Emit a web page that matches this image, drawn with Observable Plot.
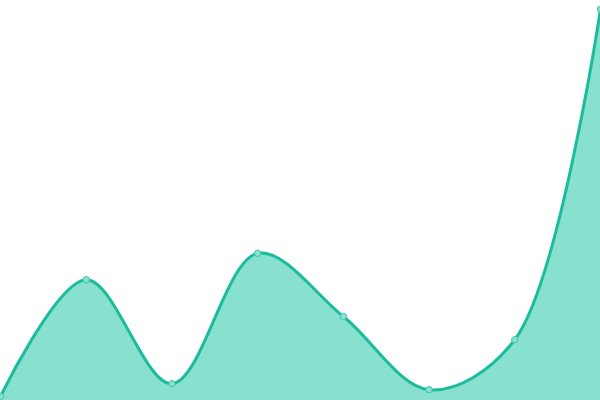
<!DOCTYPE html>
<html>
<head>
<meta charset="utf-8">
<script src="https://cdn.jsdelivr.net/npm/d3@7"></script>
<script src="https://cdn.jsdelivr.net/npm/@observablehq/plot@0.6"></script>
<style>
html, body { margin: 0; padding: 0; background: #fff; }
svg { display: block; }
</style>
</head>
<body>
<div id="chart"></div>
<script>
const categories = [0, 1, 2, 3, 4, 5, 6, 7];
const values = [1, 30.2, 4.2, 36.8, 21, 2.7, 15.2, 97.8];

const data = categories.map((c, i) => ({x: c, y: values[i]}));

const chart = Plot.plot({
  width: 600,
  height: 400,
  margin: 0,
  x: {domain: [0, 7], axis: null},
  y: {domain: [0, 100], axis: null},
  marks: [
    Plot.areaY(data, {x: "x", y: "y", curve: "catmull-rom", fill: "#88e0cf"}),
    Plot.line(data, {x: "x", y: "y", curve: "catmull-rom", stroke: "#1abc9c", strokeWidth: 3}),
    Plot.dot(data, {x: "x", y: "y", r: 3.2, fill: "#8ae0cf", stroke: "#3cc6aa", strokeWidth: 1})
  ]
});
document.getElementById("chart").appendChild(chart);
</script>
</body>
</html>
